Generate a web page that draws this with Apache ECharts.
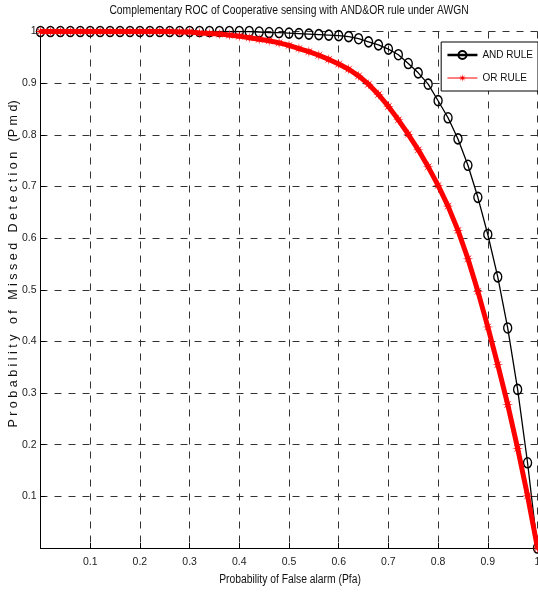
<!DOCTYPE html>
<html>
<head>
<meta charset="utf-8">
<script src="https://cdn.jsdelivr.net/npm/echarts@6/dist/echarts.min.js"></script>
<style>
  html, body { margin: 0; padding: 0; background: #fff; }
  #chart { width: 538px; height: 594px; }
</style>
</head>
<body>
<div id="chart"></div>
<script>
// Pfa 采样点
var pfa = [0, 0.02, 0.04, 0.06, 0.08, 0.1, 0.12, 0.14, 0.16, 0.18, 0.2, 0.22, 0.24, 0.26, 0.28, 0.3,
  0.32, 0.34, 0.36, 0.38, 0.4, 0.42, 0.44, 0.46, 0.48, 0.5, 0.52, 0.54, 0.56, 0.58, 0.6,
  0.62, 0.64, 0.66, 0.68, 0.7, 0.72, 0.74, 0.76, 0.78, 0.8, 0.82, 0.84, 0.86, 0.88, 0.9,
  0.92, 0.94, 0.96, 0.98, 1];
// AND 准则 Pmd
var andRule = [1, 1, 1, 1, 1, 1, 1, 1, 1, 1, 1, 1, 1, 1, 1, 1,
  1, 1, 1, 1, 1, 1, 0.999, 0.998, 0.998, 0.997, 0.996, 0.995, 0.994, 0.993, 0.992,
  0.99, 0.986, 0.98, 0.974, 0.966, 0.955, 0.938, 0.92, 0.898, 0.866, 0.833, 0.792, 0.741, 0.679, 0.607,
  0.525, 0.426, 0.307, 0.165, 0];
// OR 准则 Pmd
var orRule = [1, 1, 1, 1, 1, 1, 1, 1, 1, 1, 1, 1, 1, 1, 0.999, 0.999,
  0.997, 0.996, 0.995, 0.993, 0.991, 0.988, 0.985, 0.982, 0.978, 0.973, 0.967, 0.961, 0.954, 0.946, 0.937,
  0.927, 0.914, 0.898, 0.878, 0.855, 0.829, 0.801, 0.771, 0.738, 0.702, 0.662, 0.615, 0.56, 0.497, 0.428,
  0.355, 0.278, 0.193, 0.101, 0];
var xTicks = [0.1, 0.2, 0.3, 0.4, 0.5, 0.6, 0.7, 0.8, 0.9, 1];
var yTicks = [0.1, 0.2, 0.3, 0.4, 0.5, 0.6, 0.7, 0.8, 0.9, 1];

var font = "'Liberation Sans', Arial, sans-serif";
var star = "path://M0,-5 L0.57,-1.39 L3.54,-3.54 L1.39,-0.57 L5,0 L1.39,0.57 L3.54,3.54 L0.57,1.39 L0,5 L-0.57,1.39 L-3.54,3.54 L-1.39,0.57 L-5,0 L-1.39,-0.57 L-3.54,-3.54 L-0.57,-1.39 Z";

function pairs(xs, ys) {
  return xs.map(function (x, i) { return [x, ys[i]]; });
}
function tickLabel(list) {
  return function (v) {
    var r = Math.round(v * 10) / 10;
    return list.indexOf(r) >= 0 ? String(r) : "";
  };
}
// 窄体文字（模拟 Helvetica Narrow）
function narrowText(text, x, y, size, rotate, sx) {
  return {
    type: "text",
    x: x,
    y: y,
    rotation: rotate || 0,
    scaleX: sx || 0.86,
    style: {
      text: text,
      fontFamily: font,
      fontSize: size,
      fill: "#111",
      align: "center",
      verticalAlign: "middle",
    },
  };
}

var myChart = echarts.init(document.getElementById("chart"));
var option = {
  animation: false,
  backgroundColor: "#fff",
  graphic: [
    narrowText("Complementary ROC of Cooperative sensing with AND&OR rule under AWGN", 289, 11, 12),
    narrowText("Probability of False alarm (Pfa)", 290, 580, 12),
    narrowText("P r o b a b i l i t y   o f   M i s s e d   D e t e c t i o n   (P m d)", 14, 264, 12.5, Math.PI / 2, 1),
  ],
  legend: {
    right: 0,
    top: 42,
    orient: "vertical",
    backgroundColor: "#fff",
    borderColor: "#000",
    borderWidth: 1,
    padding: [8, 5, 8, 5],
    itemGap: 13,
    itemWidth: 30,
    itemHeight: 10,
    textStyle: { fontFamily: font, fontSize: 10, color: "#111" },
    data: [
      { name: "AND RULE", lineStyle: { width: 2.5 } },
      { name: "OR RULE", lineStyle: { width: 1 } },
    ],
  },
  grid: { left: 40.5, right: 0.5, top: 31.5, bottom: 46, outerBoundsMode: "none", containLabel: false },
  xAxis: {
    type: "value",
    min: 0,
    max: 1,
    interval: 0.1,
    axisLine: { lineStyle: { color: "#000", width: 1 } },
    axisTick: { inside: true, length: 5, lineStyle: { color: "#000" } },
    axisLabel: { fontFamily: font, fontSize: 10.5, color: "#222", margin: 9, formatter: tickLabel(xTicks) },
    splitLine: { show: true, lineStyle: { color: "#333", type: [7, 7], width: 1 } },
  },
  yAxis: {
    type: "value",
    min: 0,
    max: 1,
    interval: 0.1,
    axisLine: { show: true, lineStyle: { color: "#000", width: 1 } },
    axisTick: { show: true, inside: true, length: 5, lineStyle: { color: "#000" } },
    axisLabel: { fontFamily: font, fontSize: 10.5, color: "#222", margin: 4, formatter: tickLabel(yTicks) },
    splitLine: { show: true, lineStyle: { color: "#333", type: [7, 7], width: 1 } },
  },
  series: [
    {
      name: "AND RULE",
      type: "line",
      data: pairs(pfa, andRule),
      symbol: "circle",
      symbolSize: [8, 10],
      showAllSymbol: true,
      lineStyle: { color: "#000", width: 1.3 },
      itemStyle: { color: "rgba(255,255,255,0)", borderColor: "#000", borderWidth: 1.5 },
      z: 2,
    },
    {
      name: "OR RULE",
      type: "line",
      data: pairs(pfa, orRule),
      symbol: star,
      symbolSize: 11,
      showAllSymbol: true,
      lineStyle: { color: "#ff0000", width: 5 },
      itemStyle: { color: "#ff0000" },
      z: 3,
    },
  ],
};
myChart.setOption(option);
window.onresize = myChart.resize;
</script>
</body>
</html>
